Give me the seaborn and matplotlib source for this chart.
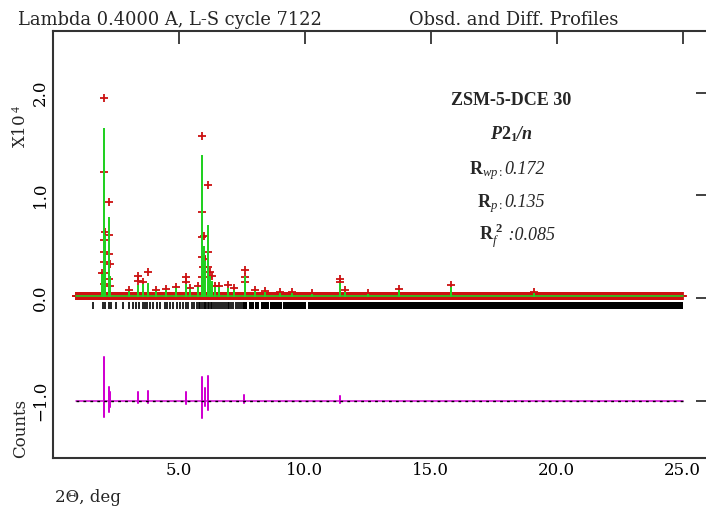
import numpy as np
import pandas as pd
import matplotlib
matplotlib.use("Agg")
import matplotlib.pyplot as plt
import seaborn as sns

# ---------------- data (intensities in units of 10^4 counts) ----------------
scan_start, scan_end, scan_step = 0.9, 25.0, 0.025
bg_level = 0.018

# peaks: position (2theta), calculated height, observed top
peak_tt = [1.93, 2.02, 2.05, 2.24, 2.28, 3.00, 3.39, 3.56, 3.78, 4.10, 4.50, 4.90,
           5.28, 5.45, 5.75, 5.91, 5.93, 5.98, 6.05, 6.16, 6.22, 6.30, 6.45, 6.60,
           6.95, 7.20, 7.62, 8.00, 8.40, 9.00, 9.50, 10.30, 11.40, 11.60, 12.50,
           13.75, 15.80, 19.10]
peak_calc = [0.22, 1.65, 0.60, 0.78, 0.20, 0.06, 0.12, 0.13, 0.14, 0.06, 0.07, 0.09,
             0.13, 0.08, 0.10, 1.03, 1.38, 0.50, 0.35, 0.70, 0.20, 0.15, 0.10, 0.10,
             0.09, 0.07, 0.20, 0.06, 0.05, 0.04, 0.04, 0.03, 0.14, 0.05, 0.03,
             0.07, 0.10, 0.04]
peak_obs = [0.24, 1.95, 0.64, 0.93, 0.12, 0.08, 0.21, 0.15, 0.25, 0.08, 0.09, 0.11,
            0.20, 0.10, 0.12, 0.84, 1.58, 0.60, 0.38, 1.10, 0.25, 0.21, 0.12, 0.12,
            0.13, 0.10, 0.27, 0.08, 0.07, 0.06, 0.06, 0.05, 0.18, 0.08, 0.05,
            0.09, 0.13, 0.06]

# extra observed points on the peak flanks
flank_tt = [2.01, 2.02, 2.03, 2.01, 2.03, 2.02, 2.23, 2.24, 2.25, 2.24,
            3.39, 5.28, 5.92, 5.93, 5.94, 5.93, 6.15, 6.16, 6.17, 7.62, 7.63, 11.40]
flank_val = [1.23, 0.56, 0.45, 0.35, 0.24, 0.14, 0.61, 0.43, 0.33, 0.18,
             0.16, 0.15, 0.59, 0.40, 0.30, 0.20, 0.45, 0.30, 0.20, 0.20, 0.15, 0.15]

# difference curve spikes (offset to -1.0)
diff_offset = -1.0
diff_tt = [2.02, 2.24, 2.28, 3.38, 3.78, 5.28, 5.93, 6.05, 6.16, 7.60, 11.40]
diff_up = [-0.58, -0.87, -0.92, -0.92, -0.91, -0.92, -0.77, -0.88, -0.76, -0.95, -0.96]
diff_down = [-1.16, -1.11, -1.06, -1.02, -1.02, -1.03, -1.17, -1.05, -1.09, -1.02, -1.02]

# reflection markers
refl_tt = [1.60, 1.99, 2.05, 2.23, 2.30, 2.50, 2.79, 3.02, 3.19, 3.29, 3.41, 3.58, 3.66,
           3.74, 3.85, 3.98, 4.12, 4.25, 4.44, 4.54, 4.64, 4.77, 4.91, 5.04, 5.15,
           5.28, 5.37, 5.50, 5.60, 5.70, 5.78, 5.85, 5.92, 5.98, 6.03, 6.08, 6.14,
           6.20, 6.26, 6.33, 6.40, 6.47, 6.55, 6.62, 6.70, 6.78, 6.85, 6.93, 7.00,
           7.08, 7.16, 7.25, 7.33, 7.42, 7.50]
refl_bands = [(7.55, 7.72), (7.78, 7.97), (8.03, 8.18), (8.24, 8.56), (8.62, 9.08),
              (9.14, 10.05), (10.12, 25.0)]

x_ticks = [5.0, 10.0, 15.0, 20.0, 25.0]
y_ticks = [-1.0, 0.0, 1.0, 2.0]

# ---------------- style ----------------
sns.set_theme(style="white")
plt.rcParams['font.family'] = ['DejaVu Serif']
plt.rcParams['mathtext.fontset'] = 'custom'
plt.rcParams['mathtext.rm'] = 'Liberation Serif'
plt.rcParams['mathtext.it'] = 'Liberation Serif:italic'
plt.rcParams['mathtext.bf'] = 'Liberation Serif:bold'
plt.rcParams['mathtext.bfit'] = 'Liberation Serif:bold:italic'

RED = "#cc1111"
GREEN = "#22d022"
MAGENTA = "#d000d0"
FRAME = "#333333"

W, H = 706, 509
fig = plt.figure(figsize=(W / 100, H / 100), dpi=100)
ax = fig.add_axes([53 / W, (H - 458) / H, (708 - 53) / W, (458 - 31) / H])

# observed points
grid = np.arange(scan_start, scan_end + 1e-9, scan_step)
obs_x = list(grid) + peak_tt + flank_tt
obs_y = [bg_level] * len(grid) + peak_obs + flank_val
obs = pd.DataFrame({"tt": obs_x, "I": obs_y})
sns.scatterplot(data=obs, x="tt", y="I", marker="+", color=RED, s=32,
                linewidth=1.3, ax=ax, zorder=2)

# calculated profile
order = np.argsort(peak_tt)
cx, cy = [scan_start], [bg_level]
for i in order:
    cx += [peak_tt[i], peak_tt[i], peak_tt[i]]
    cy += [bg_level, peak_calc[i], bg_level]
cx.append(scan_end)
cy.append(bg_level)
sns.lineplot(x=cx, y=cy, sort=False, estimator=None, color=GREEN, lw=1.2,
             ax=ax, zorder=3)

# difference curve
dx, dy = [scan_start], [diff_offset]
for t, u, d in zip(diff_tt, diff_up, diff_down):
    dx += [t, t, t, t]
    dy += [diff_offset, u, d, diff_offset]
dx.append(scan_end)
dy.append(diff_offset)
sns.lineplot(x=dx, y=dy, sort=False, estimator=None, color=MAGENTA, lw=1.1,
             ax=ax, zorder=3)
ax.plot([scan_start, scan_end], [diff_offset, diff_offset], color="black",
        lw=1.0, ls=(0, (2, 3)), zorder=4)

# reflection markers
ax.vlines(refl_tt, -0.11, -0.04, color="black", lw=1.2, zorder=2)
for s, e in refl_bands:
    ax.fill_between([s, e], -0.11, -0.04, color="black", lw=0, zorder=2)

# axes
ax.set_xlim(0, 26.0)
ax.set_ylim(-1.56, 2.60)
ax.set_xticks(x_ticks)
ax.set_xticklabels([f"{v:.1f}" for v in x_ticks], fontsize=12)
ax.set_yticks(y_ticks)
ax.set_yticklabels([f"{v:.1f}".replace("-", "\u2212") for v in y_ticks],
                   rotation=90, va="center", fontsize=12)
ax.tick_params(direction="in", length=9, width=1.3, colors=FRAME,
               top=True, right=True, pad=3, labelcolor="black")
for sp in ax.spines.values():
    sp.set_color(FRAME)
    sp.set_linewidth(1.5)
ax.set_xlabel("")
ax.set_ylabel("")

# titles and labels
fig.text(18 / W, 1 - 20 / H, "Lambda 0.4000 A, L-S cycle 7122", fontsize=12.9,
         va="center", ha="left")
fig.text(409 / W, 1 - 20 / H, "Obsd. and Diff. Profiles", fontsize=12.9,
         va="center", ha="left")
fig.text(21 / W, 1 - 126 / H, r"X10$^{\ 4}$", rotation=90, fontsize=12,
         va="center", ha="center")
fig.text(21 / W, 1 - 428 / H, "Counts", rotation=90, fontsize=12,
         va="center", ha="center")
fig.text(55 / W, 1 - 497 / H, "2\u0398, deg", fontsize=12, va="center", ha="left")

# annotations
FS = 13
SERIF = "Liberation Serif"
fig.text(511 / W, 1 - 105 / H, "ZSM-5-DCE 30", fontfamily=SERIF, fontweight="bold",
         fontsize=FS, ha="center", va="baseline")
fig.text(512 / W, 1 - 139 / H, r"$\mathbfit{P}\mathbf{2}_{\mathbf{1}}\mathbfit{/n}$",
         fontsize=FS, ha="center", va="baseline")
r_left = [r"$\mathbf{R}_{\mathit{wp:}}$", r"$\mathbf{R}_{\mathit{p:}}$",
          r"$\mathbf{R}_{\mathit{f}}^{\ \mathbf{2}}$"]
r_right = ["0.172", "0.135", " :0.085"]
r_base = [174, 207, 240]
for lt, rt, yb in zip(r_left, r_right, r_base):
    fig.text(503 / W, 1 - yb / H, lt, fontsize=FS, ha="right", va="baseline")
    fig.text(504 / W, 1 - yb / H, rt, fontsize=FS, ha="left", va="baseline",
             fontfamily=SERIF, fontstyle="italic")

fig.savefig("out.png", dpi=100)
